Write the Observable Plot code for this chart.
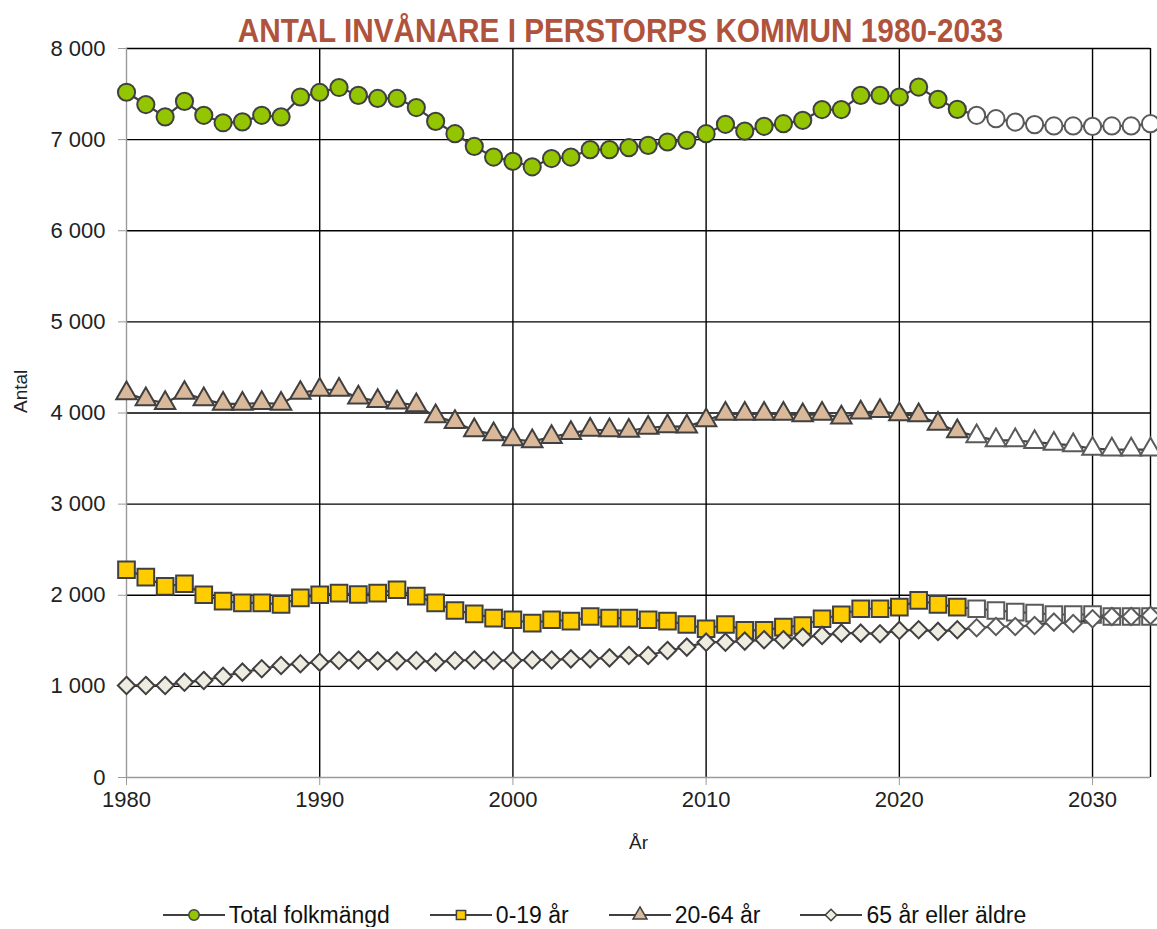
<!DOCTYPE html>
<html>
<head>
<meta charset="utf-8">
<script src="https://cdn.jsdelivr.net/npm/d3@7"></script>
<script src="https://cdn.jsdelivr.net/npm/@observablehq/plot@0.6"></script>
<style>
  html, body { margin: 0; padding: 0; background: white; }
  #wrap { position: relative; width: 1157px; }
  #title { position: absolute; top: 12px; left: 0; width: 1157px; box-sizing: border-box; padding-left: 83px;
    text-align: center; }
  #title span { display: inline-block; transform: scaleX(0.875); transform-origin: center;
    font-family: "Liberation Sans", Arial, sans-serif; font-weight: bold;
    font-size: 34px; line-height: 36px; color: #B0533C; white-space: nowrap; }
  #legend { display: flex; justify-content: center; align-items: center; gap: 40px; margin-top: 33px;
    padding-left: 32px; box-sizing: border-box; width: 1157px;
    font-family: "Liberation Sans", Arial, sans-serif; font-size: 23px; color: #111; height: 24px; }
  .item { display: flex; align-items: center; gap: 4px; }
</style>
</head>
<body>
<div id="wrap">
  <div id="chart"></div>
  <div id="title"><span>ANTAL INVÅNARE I PERSTORPS KOMMUN 1980-2033</span></div>
  <div id="legend"></div>
</div>
<script>
const years = [1980,1981,1982,1983,1984,1985,1986,1987,1988,1989,1990,1991,1992,1993,1994,1995,1996,1997,1998,1999,
  2000,2001,2002,2003,2004,2005,2006,2007,2008,2009,2010,2011,2012,2013,2014,2015,2016,2017,2018,2019,
  2020,2021,2022,2023,2024,2025,2026,2027,2028,2029,2030,2031,2032,2033];
const lastObserved = 2023;
const total = [7520,7385,7250,7420,7267,7185,7195,7267,7250,7468,7518,7572,7486,7452,7452,7352,7200,7065,6926,6809,
  6762,6702,6792,6809,6890,6890,6912,6937,6974,6992,7065,7168,7094,7146,7175,7212,7330,7330,7486,7486,
  7468,7577,7442,7332,7267,7230,7193,7165,7150,7150,7145,7150,7150,7175];
const age0_19 = [2280,2199,2097,2126,2005,1935,1917,1917,1899,1972,2005,2023,2008,2023,2060,1990,1917,1833,1796,1749,
  1731,1694,1731,1716,1767,1749,1749,1731,1716,1679,1632,1679,1614,1614,1650,1668,1742,1786,1852,1852,
  1870,1943,1899,1870,1852,1833,1815,1804,1789,1789,1789,1767,1767,1767];
const age20_64 = [4215,4150,4110,4220,4150,4100,4100,4110,4100,4220,4255,4255,4168,4130,4115,4083,3963,3900,3809,3765,
  3712,3688,3735,3780,3815,3810,3805,3838,3853,3850,3919,3992,3990,3990,3990,3975,3990,3950,4005,4020,
  3985,3975,3882,3800,3743,3699,3699,3680,3662,3645,3608,3598,3598,3598];
const age65 = [1010,1010,1010,1046,1065,1109,1156,1193,1229,1248,1266,1284,1290,1280,1280,1284,1266,1284,1290,1284,
  1285,1290,1290,1302,1302,1313,1339,1339,1394,1431,1485,1485,1497,1512,1512,1540,1559,1584,1584,1577,
  1614,1621,1603,1621,1643,1657,1657,1668,1705,1690,1742,1767,1767,1778];
const seriesNames = ["Total folkmängd", "0-19 år", "20-64 år", "65 år eller äldre"];
const seriesValues = [total, age0_19, age20_64, age65];
const seriesFill = ["#93C500", "#FFCC00", "#DAB99B", "#EEEBE0"];
const seriesSymbol = ["circle", "square", "triangle", "diamond2"];
const seriesR = [8.6, 9.4, 7.6, 7.8];
const yTicks = [0,1000,2000,3000,4000,5000,6000,7000,8000];
const xTicks = [1980,1990,2000,2010,2020,2030];

const stroke = "#404040";
const fmt = d => d3.format(",")(d).replace(/,/g, "\u00a0");

const marks = [
  Plot.ruleY(yTicks.filter(d => d > 0), {stroke: "#000", strokeWidth: 1.4}),
  Plot.ruleX(xTicks.filter(d => d > 1980).concat([2033]), {stroke: "#000", strokeWidth: 1.4}),
  Plot.ruleY([0], {stroke: "#9a9a9a", strokeWidth: 1.4}),
  Plot.ruleX([1980], {stroke: "#9a9a9a", strokeWidth: 1.4}),
  Plot.axisX({ticks: xTicks, tickSize: 8, tickPadding: 6, tickFormat: d => String(d), label: null, stroke: "#9a9a9a", fill: "#222", fontSize: 22}),
  Plot.axisY({ticks: yTicks, tickSize: 8, tickPadding: 13, tickFormat: fmt, label: null, stroke: "#9a9a9a", fill: "#222", fontSize: 22}),
  Plot.text(["Antal"], {frameAnchor: "left", dx: -106, rotate: -90, fontSize: 19, fill: "#222"}),
  Plot.text(["År"], {frameAnchor: "bottom", dy: 71, fontSize: 19, fill: "#222"})
];

seriesValues.forEach((vals, i) => {
  const data = years.map((y, j) => ({year: y, value: vals[j], proj: y > lastObserved}));
  marks.push(Plot.line(data, {x: "year", y: "value", stroke: stroke, strokeWidth: 2.2}));
  marks.push(Plot.dot(data, {
    x: "year", y: "value", symbol: () => seriesSymbol[i], r: seriesR[i],
    fill: d => d.proj ? "#ffffff" : seriesFill[i],
    stroke: d => d.proj ? "#5a5a5a" : stroke, strokeWidth: 2
  }));
});

const chart = Plot.plot({
  width: 1157, height: 870,
  marginLeft: 126, marginRight: 7, marginTop: 48, marginBottom: 93,
  style: {fontFamily: "Liberation Sans, Arial, sans-serif", fontSize: "21px", background: "white", color: "#222"},
  x: {domain: [1980, 2033]},
  y: {domain: [0, 8000]},
  symbol: {type: "identity"},
  marks
});
document.getElementById("chart").appendChild(chart);

// legend
const legend = document.getElementById("legend");
const ns = "http://www.w3.org/2000/svg";
seriesNames.forEach((name, i) => {
  const item = document.createElement("div");
  item.className = "item";
  const svg = document.createElementNS(ns, "svg");
  svg.setAttribute("width", 62); svg.setAttribute("height", 20);
  const line = document.createElementNS(ns, "line");
  line.setAttribute("x1", 0); line.setAttribute("x2", 62); line.setAttribute("y1", 10); line.setAttribute("y2", 10);
  line.setAttribute("stroke", stroke); line.setAttribute("stroke-width", 2.2);
  svg.appendChild(line);
  const sym = {circle: d3.symbolCircle, square: d3.symbolSquare, triangle: d3.symbolTriangle, diamond2: d3.symbolDiamond2}[seriesSymbol[i]];
  const r = 5.2;
  const p = document.createElementNS(ns, "path");
  p.setAttribute("d", d3.symbol(sym, Math.PI * r * r)());
  p.setAttribute("transform", "translate(31,10)");
  p.setAttribute("fill", seriesFill[i]); p.setAttribute("stroke", stroke); p.setAttribute("stroke-width", 1.5);
  svg.appendChild(p);
  item.appendChild(svg);
  const t = document.createElement("span");
  t.textContent = name;
  item.appendChild(t);
  legend.appendChild(item);
});
</script>
</body>
</html>
